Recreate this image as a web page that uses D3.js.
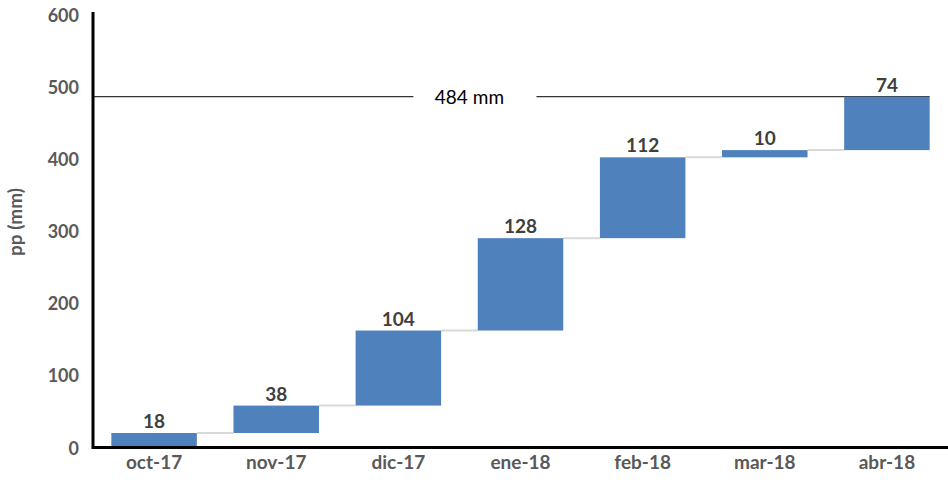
<!DOCTYPE html>
<html>
<head>
<meta charset="utf-8">
<script src="https://cdn.jsdelivr.net/npm/d3@7"></script>
<style>
  body { margin: 0; background: #fff; }
  svg { display: block; font-family: Lato, "Liberation Sans", sans-serif; }
</style>
</head>
<body>
<svg width="948" height="495"></svg>
<script>
var months = ["oct-17", "nov-17", "dic-17", "ene-18", "feb-18", "mar-18", "abr-18"];
var rain = [18, 38, 104, 128, 112, 10, 74];
var yTicks = [0, 100, 200, 300, 400, 500, 600];
var totalLabel = "484 mm";

var svg = d3.select("svg");
var plotLeft = 93, plotRight = 948, plotTop = 13, plotBottom = 446;

// running totals for the waterfall
var acc = 0;
var steps = rain.map(function(v, i) {
  var s = { month: months[i], value: v, start: acc, end: acc + v };
  acc += v;
  return s;
});
var total = acc;

var x = d3.scaleBand().domain(months).range([plotLeft, plotRight]).paddingInner(0.3).paddingOuter(0.15);
var y = d3.scaleLinear().domain([0, 600]).range([plotBottom, plotTop]);

// connectors between bars
svg.append("g").selectAll("line")
  .data(steps.slice(0, -1))
  .enter().append("line")
  .attr("x1", d => x(d.month) + x.bandwidth())
  .attr("x2", (d, i) => x(months[i + 1]))
  .attr("y1", d => y(d.end))
  .attr("y2", d => y(d.end))
  .attr("stroke", "#d9d9d9")
  .attr("stroke-width", 2);

// total line with a gap for its label
var midX = (x(months[2]) + x(months[3]) + x.bandwidth()) / 2 + 10;
var lineEnd = x(months[6]) + x.bandwidth();
svg.append("line")
  .attr("x1", plotLeft).attr("x2", midX - 56)
  .attr("y1", y(total)).attr("y2", y(total))
  .attr("stroke", "#000").attr("stroke-width", 1);
svg.append("line")
  .attr("x1", midX + 67).attr("x2", lineEnd)
  .attr("y1", y(total)).attr("y2", y(total))
  .attr("stroke", "#000").attr("stroke-width", 1);
svg.append("text")
  .attr("x", midX).attr("y", y(total) + 7)
  .attr("text-anchor", "middle")
  .attr("font-size", 19)
  .attr("fill", "#000")
  .text(totalLabel);

// bars
svg.append("g").selectAll("rect")
  .data(steps)
  .enter().append("rect")
  .attr("x", d => x(d.month))
  .attr("width", x.bandwidth())
  .attr("y", d => y(d.end))
  .attr("height", d => y(d.start) - y(d.end))
  .attr("fill", "#4f81bd");

// value labels
svg.append("g").selectAll("text")
  .data(steps)
  .enter().append("text")
  .attr("x", d => x(d.month) + x.bandwidth() / 2)
  .attr("y", d => y(d.end) - 5)
  .attr("text-anchor", "middle")
  .attr("font-size", 19)
  .attr("font-weight", "bold")
  .attr("fill", "#404040")
  .text(d => d.value);

// y axis
var yAxis = svg.append("g")
  .attr("transform", "translate(" + plotLeft + ",0)")
  .call(d3.axisLeft(y).tickValues(yTicks).tickSize(0).tickPadding(14));
yAxis.select(".domain").attr("stroke", "#000").attr("stroke-width", 3)
  .attr("d", "M0," + (plotTop - 1) + "V" + plotBottom);
yAxis.selectAll("text")
  .attr("font-family", "Lato, 'Liberation Sans', sans-serif")
  .attr("dy", "0.45em")
  .attr("font-size", 18).attr("font-weight", "bold").attr("fill", "#595959");

// x axis
var xAxis = svg.append("g")
  .attr("transform", "translate(0," + plotBottom + ")")
  .call(d3.axisBottom(x).tickSize(0).tickPadding(10));
xAxis.select(".domain").attr("stroke", "#000").attr("stroke-width", 3)
  .attr("d", "M" + (plotLeft - 1.5) + ",1.5H" + plotRight);
xAxis.selectAll("text")
  .attr("font-family", "Lato, 'Liberation Sans', sans-serif")
  .attr("font-size", 19).attr("font-weight", "bold").attr("fill", "#595959");

// axis title
svg.append("text")
  .attr("transform", "translate(22,222) rotate(-90)")
  .attr("text-anchor", "middle")
  .attr("font-size", 19)
  .attr("font-weight", "bold")
  .attr("fill", "#595959")
  .text("pp (mm)");
</script>
</body>
</html>
